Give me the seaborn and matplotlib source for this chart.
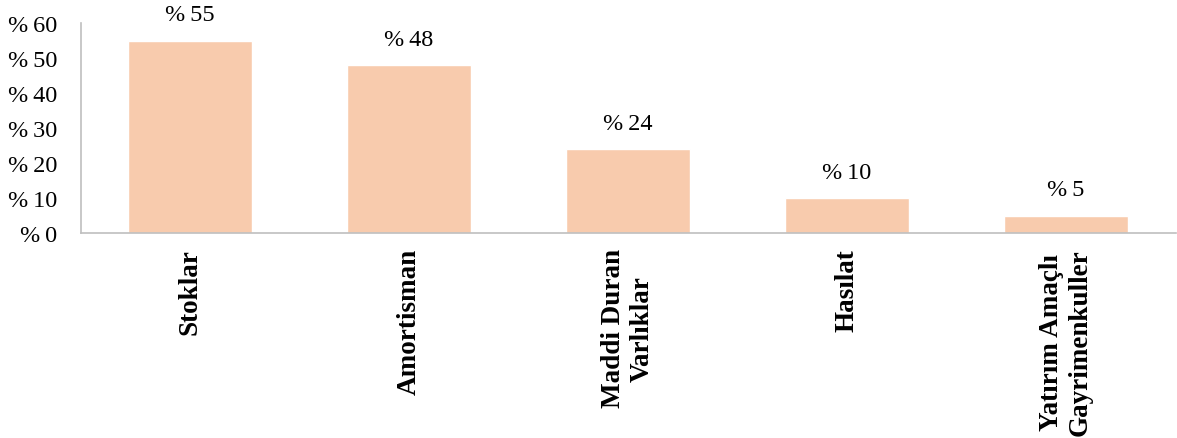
import matplotlib
matplotlib.use("Agg")
import matplotlib.pyplot as plt
import seaborn as sns
import pandas as pd

categories = ["Stoklar", "Amortisman", "Maddi Duran\nVarlıklar", "Hasılat", "Yatırım Amaçlı\nGayrimenkuller"]
values = [55, 48, 24, 10, 5]
yticks = [0, 10, 20, 30, 40, 50, 60]
ytick_labels = ["%\u2009" + str(v) for v in yticks]
value_labels = ["%\u2009" + str(v) for v in values]

sns.set_style("white")
plt.rcParams["font.family"] = ["Liberation Serif", "DejaVu Serif"]
plt.rcParams["text.color"] = "black"
plt.rcParams["xtick.color"] = "black"
plt.rcParams["ytick.color"] = "black"

df = pd.DataFrame({"cat": categories, "val": values})

fig = plt.figure(figsize=(11.77, 4.39), dpi=100)
ax = fig.add_axes([80.5 / 1177, 1 - 234 / 439, 1095 / 1177, 210 / 439])

sns.barplot(data=df, x="cat", y="val", color="#F8CBAD", saturation=1, width=0.566, ax=ax)

ax.set_ylim(0, 60)
ax.set_yticks(yticks)
ax.set_yticklabels(ytick_labels, fontsize=17.5, color="black")
ax.set_xlim(-0.5, len(categories) - 0.5)
ax.set_xticks(range(len(categories)))
ax.set_xticklabels(categories, rotation=90, fontsize=19.5, fontweight="bold", color="black",
                   va="top", ha="center", multialignment="center")
ax.tick_params(axis="x", length=0, pad=11)
ax.tick_params(axis="y", length=0, pad=17)
ax.set_xlabel("")
ax.set_ylabel("")

for s in ["top", "right"]:
    ax.spines[s].set_visible(False)
for s in ["left", "bottom"]:
    ax.spines[s].set_color("#BFBFBF")
    ax.spines[s].set_linewidth(1.2)

for container in ax.containers:
    ax.bar_label(container, labels=value_labels, padding=11, fontsize=17.5, color="black")

fig.savefig("out.png", dpi=100)
